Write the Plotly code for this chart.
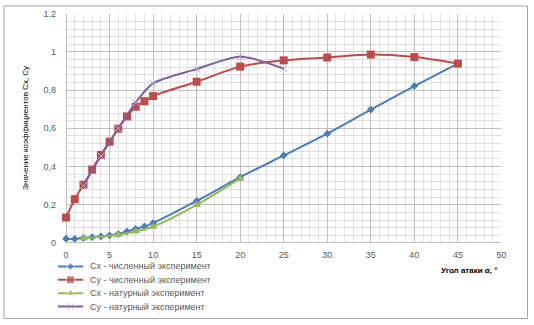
import plotly.graph_objects as go

W, H = 534, 325

# ---- data ----
cx_num_x = [0, 1, 2, 3, 4, 5, 6, 7, 8, 9, 10, 15, 20, 25, 30, 35, 40, 45]
cx_num_y = [0.022, 0.021, 0.026, 0.030, 0.034, 0.040, 0.047, 0.060, 0.074, 0.086, 0.104,
            0.220, 0.344, 0.458, 0.572, 0.698, 0.821, 0.939]

cy_num_x = [0, 1, 2, 3, 4, 5, 6, 7, 8, 9, 10, 15, 20, 25, 30, 35, 40, 45]
cy_num_y = [0.133, 0.229, 0.305, 0.384, 0.461, 0.530, 0.598, 0.662, 0.713, 0.742, 0.769,
            0.844, 0.923, 0.956, 0.971, 0.986, 0.973, 0.939]

cx_nat_x = [2, 6, 8, 10, 15, 20]
cx_nat_y = [0.024, 0.043, 0.060, 0.085, 0.199, 0.338]

cy_nat_x = [2, 4, 6, 8, 10, 15, 20, 25]
cy_nat_y = [0.300, 0.455, 0.600, 0.735, 0.835, 0.910, 0.975, 0.912]

series_names = ["Cx - численный эксперимент", "Cy - численный эксперимент",
                "Cx - натурный эксперимент", "Cy - натурный эксперимент"]
x_ticks = [0, 5, 10, 15, 20, 25, 30, 35, 40, 45, 50]
y_ticks = [0, 0.2, 0.4, 0.6, 0.8, 1.0, 1.2]

colors = ["#4A7EBB", "#BE4B48", "#98B954", "#7D60A0"]
marker_colors = ["#4A7EBB", "#BE4B48", "#98B954", "#B3A6CC"]
symbols = ["diamond", "square", "triangle-up", "x-thin"]
msizes = [6, 8, 8, 7]

FONT = "Liberation Sans"
TICKC = "#595959"

# plot area in pixels
L, R, T, B = 64, 506, 9, 245.5

fig = go.Figure()
data = [(cx_num_x, cx_num_y), (cy_num_x, cy_num_y), (cx_nat_x, cx_nat_y), (cy_nat_x, cy_nat_y)]
for i, (xs, ys) in enumerate(data):
    mk = dict(symbol=symbols[i], size=msizes[i], color=marker_colors[i])
    if symbols[i] == "x-thin":
        mk["line"] = dict(color=marker_colors[i], width=1)
    fig.add_trace(go.Scatter(
        x=xs, y=ys, mode="lines+markers", name=series_names[i],
        line=dict(color=colors[i], width=2, shape="spline", smoothing=0.8),
        marker=mk, cliponaxis=False, showlegend=False,
    ))

# custom legend on auxiliary axes
for i in range(4):
    mk = dict(symbol=symbols[i], size=[0, msizes[i], 0], color=marker_colors[i])
    if symbols[i] == "x-thin":
        mk["line"] = dict(color=marker_colors[i], width=1)
    fig.add_trace(go.Scatter(
        x=[0, 0.5, 1], y=[i, i, i], mode="lines+markers",
        line=dict(color=colors[i], width=2), marker=mk,
        xaxis="x2", yaxis="y2", showlegend=False, hoverinfo="skip", cliponaxis=False,
    ))
    fig.add_annotation(x=86 / W, y=i, xref="paper", yref="y2", text=series_names[i],
                       showarrow=False, xanchor="left", yanchor="middle",
                       font=dict(family=FONT, size=9, color=TICKC))

fig.update_layout(
    width=W, height=H,
    margin=dict(l=0, r=0, t=0, b=0),
    paper_bgcolor="white", plot_bgcolor="white",
    separators=", ",
    showlegend=False,
    font=dict(family=FONT, size=9, color=TICKC),
    xaxis=dict(
        domain=[L / W, R / W], range=[0, 50], tickvals=x_ticks,
        showgrid=True, gridcolor="#BFBFBF", gridwidth=1,
        zeroline=True, zerolinecolor="#BFBFBF", zerolinewidth=1,
        showline=False, ticks="", ticklabelstandoff=5,
        minor=dict(dtick=1, showgrid=True, gridcolor="#E0E0E0", gridwidth=1),
        tickfont=dict(family=FONT, size=9, color=TICKC),
        fixedrange=True, anchor="y",
    ),
    yaxis=dict(
        domain=[1 - B / H, 1 - T / H], range=[0, 1.2], tickvals=y_ticks,
        showgrid=True, gridcolor="#BFBFBF", gridwidth=1,
        zeroline=True, zerolinecolor="#BFBFBF", zerolinewidth=1,
        showline=False, ticks="", ticklabelstandoff=9,
        minor=dict(dtick=0.04, showgrid=True, gridcolor="#E0E0E0", gridwidth=1),
        tickfont=dict(family=FONT, size=9, color=TICKC),
        fixedrange=True, anchor="x",
    ),
    xaxis2=dict(domain=[55.5 / W, 81.7 / W], range=[0, 1], visible=False,
                fixedrange=True, anchor="y2"),
    yaxis2=dict(domain=[1 - 318 / H, 1 - 262.9 / H], range=[3.5, -0.5], visible=False,
                fixedrange=True, anchor="x2"),
)

# axis titles
fig.add_annotation(x=504 / W, y=1 - 273.6 / H, xref="paper", yref="paper",
                   text="<b>Угол атаки <i>α</i>, °</b>", showarrow=False,
                   xanchor="right", yanchor="middle",
                   font=dict(family=FONT, size=8, color="#000000"))
fig.add_annotation(x=22 / W, y=1 - 127 / H, xref="paper", yref="paper",
                   text="Значение коэффициентов Cx, Cy", showarrow=False, textangle=-90,
                   xanchor="center", yanchor="middle",
                   font=dict(family=FONT, size=8, color="#000000"))

# chart border
fig.add_shape(type="rect", xref="paper", yref="paper",
              x0=1 / W, x1=1 - 1.5 / W, y0=1.5 / H, y1=1 - 1 / H,
              line=dict(color="#A0A0A0", width=1), fillcolor="rgba(0,0,0,0)", layer="above")

fig.write_html("out.html", config={"displayModeBar": False},
               post_script="document.body.style.margin='0';document.body.style.overflow='hidden';")
